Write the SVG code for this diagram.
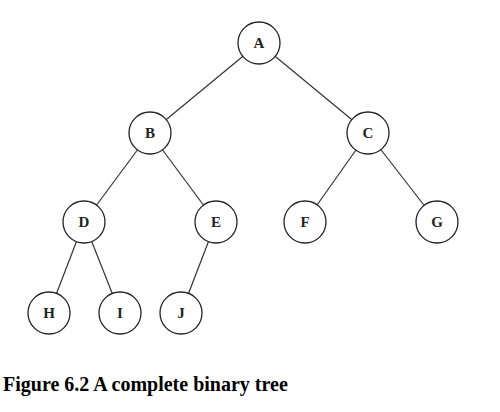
<svg xmlns="http://www.w3.org/2000/svg" width="500" height="412" viewBox="0 0 500 412">
<style>
.n circle{fill:#fff;stroke:#222;stroke-width:1.3}
.n text{font-family:"Liberation Serif",serif;font-size:15px;font-weight:bold;fill:#222;text-anchor:middle}
.e line{stroke:#333;stroke-width:1.2}
.cap{font-family:"Liberation Serif",serif;font-size:20px;font-weight:bold;fill:#000}
</style>
<rect width="500" height="412" fill="#fff"/>
<g class="e" id="edges">
<line x1="259" y1="43" x2="150" y2="133"/>
<line x1="259" y1="43" x2="368" y2="133"/>
<line x1="150" y1="133" x2="84" y2="222"/>
<line x1="150" y1="133" x2="216" y2="222"/>
<line x1="368" y1="133" x2="305" y2="222"/>
<line x1="368" y1="133" x2="437" y2="222"/>
<line x1="84" y1="222" x2="49" y2="313"/>
<line x1="84" y1="222" x2="120" y2="313"/>
<line x1="216" y1="222" x2="181" y2="313"/>
</g>
<g class="n" id="A"><circle cx="259" cy="43" r="21"/><text x="259" y="48">A</text></g>
<g class="n" id="B"><circle cx="150" cy="133" r="21"/><text x="150" y="138">B</text></g>
<g class="n" id="C"><circle cx="368" cy="133" r="21"/><text x="368" y="138">C</text></g>
<g class="n" id="D"><circle cx="84" cy="222" r="21"/><text x="84" y="227">D</text></g>
<g class="n" id="E"><circle cx="216" cy="222" r="21"/><text x="216" y="227">E</text></g>
<g class="n" id="F"><circle cx="305" cy="222" r="21"/><text x="305" y="227">F</text></g>
<g class="n" id="G"><circle cx="437" cy="222" r="21"/><text x="437" y="227">G</text></g>
<g class="n" id="H"><circle cx="49" cy="313" r="21"/><text x="49" y="318">H</text></g>
<g class="n" id="I"><circle cx="120" cy="313" r="21"/><text x="120" y="318">I</text></g>
<g class="n" id="J"><circle cx="181" cy="313" r="21"/><text x="181" y="318">J</text></g>
<text class="cap" x="3" y="391">Figure 6.2 A complete binary tree</text>
</svg>
